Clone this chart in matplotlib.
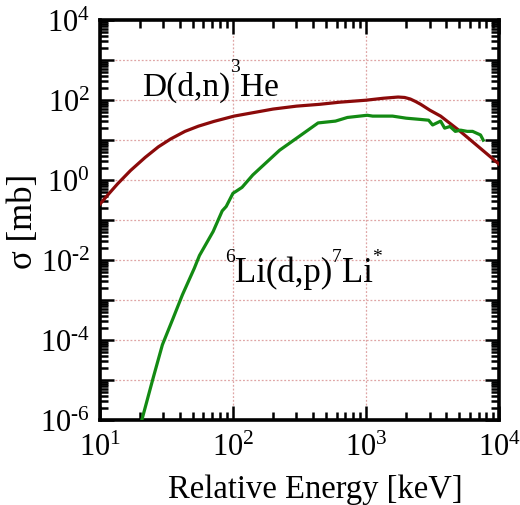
import matplotlib
matplotlib.use('Agg')
import matplotlib.pyplot as plt
import matplotlib.ticker as ticker
import numpy as np

#curve data (energy in keV, cross section in mb)
DD_ENERGY = [10, 11.5, 13.6, 17, 21.9, 27.5, 34, 43.6, 55, 72, 102, 200, 300,
             450, 630, 1000, 1350, 1740, 1950, 2150, 2350, 2570, 3020, 3630,
             5100, 7200, 10000]
DD_SIGMA = [0.25, 0.43, 0.81, 1.74, 3.7, 6.8, 10.7, 16.6, 22.4, 29.5, 40, 60,
            71, 79, 89, 100, 112, 120, 117, 107, 93, 79, 56, 40, 16.6, 6.3, 2.5]

LI_ENERGY = [20.5, 25.1, 29.5, 35.5, 41.7, 51.3, 56, 71, 83, 89, 100, 105, 117,
             141, 224, 316, 436, 589, 724, 1020, 1120, 1580, 2000, 2570, 2950,
             3160, 3630, 3890, 4270, 4680, 5130, 5750, 6310, 7240, 7590]
LI_SIGMA = [9e-7, 1.1e-5, 7.6e-5, 3.5e-4, 1.35e-3, 6.3e-3, 0.013, 0.052, 0.17,
            0.22, 0.47, 0.52, 0.66, 1.35, 5.6, 12.6, 27, 30, 37, 42, 40, 40,
            35.5, 33, 31.6, 24, 30, 20, 22, 16.6, 17.8, 16.6, 16.6, 13.5, 10]

DD_LABEL = [('D(d,n)', False), ('3', True), ('He', False)]
LI_LABEL = [('6', True), ('Li(d,p)', False), ('7', True), ('Li', False), ('*', True)]

DD_COLOR = '#8b0a0a'
LI_COLOR = '#138a13'

plt.rcParams['font.family'] = ['Liberation Serif', 'DejaVu Serif']
plt.rcParams['mathtext.fontset'] = 'custom'
plt.rcParams['mathtext.rm'] = 'Liberation Serif'
plt.rcParams['mathtext.it'] = 'Liberation Serif:italic'


#label only even decades on the y axis, short hyphen for the sign
def y_fmt(val, pos):
    exp = int(round(np.log10(val)))
    if exp % 2:
        return ''
    if exp < 0:
        return '$10^{\\text{-}%d}$' % (-exp)
    return '$10^{%d}$' % exp


def x_fmt(val, pos):
    exp = int(round(np.log10(val)))
    return '$10^{%d}$' % exp


#chain text pieces left to right, superscripts raised by raise_pt
def chem_label(ax, x, y, parts, size, sup_size, raise_pt):
    prev = None
    for txt, is_sup in parts:
        dy = raise_pt if is_sup else 0
        fs = sup_size if is_sup else size
        if prev is None:
            prev = ax.annotate(txt, xy=(x, y), xycoords='data',
                               xytext=(0, dy), textcoords='offset points',
                               fontsize=fs, ha='left', va='baseline')
        else:
            prev = ax.annotate(txt, xy=(1, y), xycoords=(prev, 'data'),
                               xytext=(0, dy), textcoords='offset points',
                               fontsize=fs, ha='left', va='baseline')


fig = plt.figure(figsize=(5.2, 5.06), dpi=100)
ax = fig.add_axes([0.192, 0.168, 0.768, 0.790])

ax.plot(DD_ENERGY, DD_SIGMA, color=DD_COLOR, linewidth=2.3, zorder=3)
ax.plot(LI_ENERGY, LI_SIGMA, color=LI_COLOR, linewidth=2.3, zorder=3)

ax.set_xscale('log')
ax.set_yscale('log')
ax.set_xlim(10, 1e4)
ax.set_ylim(1e-6, 1e4)

ax.xaxis.set_major_locator(ticker.LogLocator(base=10, numticks=100))
ax.yaxis.set_major_locator(ticker.LogLocator(base=10, numticks=100))
ax.xaxis.set_minor_locator(ticker.LogLocator(base=10, subs=np.arange(2, 10), numticks=100))
ax.yaxis.set_minor_locator(ticker.LogLocator(base=10, subs=np.arange(2, 10), numticks=100))
ax.xaxis.set_major_formatter(ticker.FuncFormatter(x_fmt))
ax.yaxis.set_major_formatter(ticker.FuncFormatter(y_fmt))
ax.xaxis.set_minor_formatter(ticker.NullFormatter())
ax.yaxis.set_minor_formatter(ticker.NullFormatter())

ax.tick_params(which='both', direction='in', top=True, right=True, width=1.8, color='black')
ax.tick_params(which='major', length=10, labelsize=22)
ax.tick_params(which='minor', length=6)
ax.tick_params(axis='x', which='major', pad=9)
ax.tick_params(axis='y', which='major', pad=7)

for sp in ax.spines.values():
    sp.set_linewidth(2.6)

ax.grid(True, which='major', color='#dfa5a5', linestyle=(0, (1.5, 1.5)), linewidth=0.9)
ax.set_axisbelow(True)

ax.set_xlabel('Relative Energy [keV]', fontsize=23.5)
ax.xaxis.set_label_coords(0.539, -0.135)
ax.set_ylabel('σ [mb]', fontsize=25, labelpad=0)

chem_label(ax, 20.7, 133, DD_LABEL, 24, 14, 17.5)
chem_label(ax, 87, 3.0e-3, LI_LABEL, 25, 14, 14.5)

fig.savefig('out.png', dpi=100)
